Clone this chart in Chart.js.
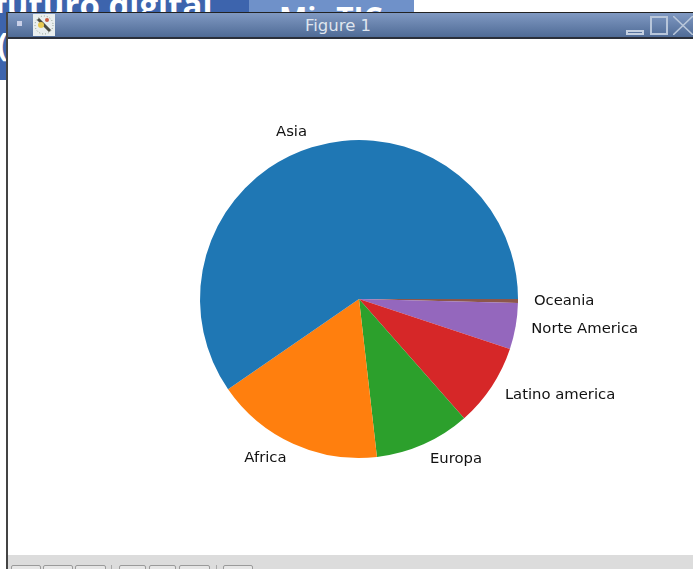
<!DOCTYPE html>
<html>
<head>
<meta charset="utf-8">
<title>Figure 1</title>
<script src="https://cdn.jsdelivr.net/npm/chart.js@4"></script>
<style>
  html, body { margin: 0; padding: 0; background: #fff; overflow: hidden; }
  #page { position: relative; width: 693px; height: 569px; overflow: hidden; font-family: "DejaVu Sans", sans-serif; }
  .abs { position: absolute; }
  #bgBlue { left: 0; top: 0; width: 249px; height: 13px; background: #3d64ad; overflow: hidden; }
  #bgText { left: -6px; top: -18px; font: bold 33px "Open Sans", sans-serif; color: #fff; white-space: nowrap; }
  #bgBlue2 { left: 249px; top: 0; width: 165px; height: 13px; background: #6f91c9; overflow: hidden; }
  #bgTic { left: 30px; top: -3px; font: bold 30px "Open Sans", sans-serif; color: #fff; white-space: nowrap; }
  #bgLeft { left: 0; top: 13px; width: 6px; height: 67px; background: #3d64ad; overflow: hidden; }
  #bgParen { left: -3px; top: 8px; font: bold 33px "Open Sans", sans-serif; color: #fff; }
  #win { left: 6px; top: 12px; width: 700px; height: 570px; background: #fff; border-left: 2px solid #444; box-sizing: border-box; }
  #bar { left: 0; top: 0; width: 100%; height: 27px; border-top: 1px solid #222; border-bottom: 2px solid #2a2f3a; box-sizing: border-box; background: linear-gradient(#8099c2, #4f6b96); }
  #barTitle { left: 0; top: 3px; width: 660px; text-align: center; color: #dfe5ee; font-size: 16.5px; }
  #dot { left: 9px; top: 8px; width: 5px; height: 5px; background: #c9d0e8; }
  #tools { left: 0; top: 543px; width: 100%; height: 30px; background: #dcdcdc; }
  .btn { top: 10px; height: 20px; background: #e6e6e6; border: 1px solid #9a9a9a; border-radius: 2px; box-sizing: border-box; }
  .sep { top: 10px; width: 1px; height: 20px; background: #a8a8a8; }
  #minBtn { left: 618px; top: 17px; width: 18px; height: 5px; border: 2px solid #c3cfe0; box-sizing: border-box; }
  #maxBtn { left: 642px; top: 3px; width: 18px; height: 19px; border: 2px solid #b8c6da; box-sizing: border-box; }
  #pie { position: absolute; left: 0; top: 0; }
</style>
</head>
<body>
<div id="page">
  <div class="abs" id="bgBlue"><div class="abs" id="bgText">futuro digital</div></div>
  <div class="abs" id="bgBlue2"><div class="abs" id="bgTic">MinTIC</div></div>
  <div class="abs" id="bgLeft"><div class="abs" id="bgParen">(</div></div>
  <div class="abs" id="win">
    <div class="abs" id="bar">
      <div class="abs" id="dot"></div>
      <svg class="abs" style="left:25px;top:1px" width="22" height="22">
        <rect width="22" height="22" fill="#e9eeee"/>
        <circle cx="11" cy="11" r="9" fill="none" stroke="#8a9a8a" stroke-dasharray="1 2"/>
        <path d="M5 5 L17 17" stroke="#4a4a40" stroke-width="3"/>
        <circle cx="8" cy="11" r="3" fill="#e8c850"/>
        <circle cx="14" cy="6" r="2" fill="#c85a40"/>
      </svg>
      <div class="abs" id="barTitle">Figure 1</div>
      <div class="abs" id="minBtn"></div>
      <div class="abs" id="maxBtn"></div>
      <svg class="abs" style="left:665px;top:3px" width="20" height="19">
        <path d="M0 0 L20 19 M20 0 L0 19" stroke="#b8c6da" stroke-width="1.6"/>
      </svg>
    </div>
    <div class="abs" id="tools">
      <div class="abs btn" style="left:3px;width:30px"></div>
      <div class="abs btn" style="left:35px;width:30px"></div>
      <div class="abs btn" style="left:67px;width:31px"></div>
      <div class="abs sep" style="left:103px"></div>
      <div class="abs btn" style="left:111px;width:27px"></div>
      <div class="abs btn" style="left:141px;width:27px"></div>
      <div class="abs btn" style="left:171px;width:31px"></div>
      <div class="abs sep" style="left:208px"></div>
      <div class="abs btn" style="left:215px;width:30px"></div>
    </div>
  </div>
  <canvas id="pie" width="693" height="569"></canvas>
</div>
<script>
// shares, in drawing order (clockwise from east)
const regions = ['Oceania', 'Norte America', 'Latino america', 'Europa', 'Africa', 'Asia'];
const shares = [0.4, 4.7, 8.4, 9.7, 17.2, 59.6];
const colors = ['#8c564b', '#9467bd', '#d62728', '#2ca02c', '#ff7f0e', '#1f77b4'];

// labels outside the slices, at 1.1 radius
const outsideLabels = {
  id: 'outsideLabels',
  afterDatasetsDraw(chart) {
    const ctx = chart.ctx;
    ctx.save();
    ctx.font = '14.8px "DejaVu Sans"';
    ctx.fillStyle = '#111';
    ctx.textBaseline = 'middle';
    chart.getDatasetMeta(0).data.forEach((arc, i) => {
      const p = arc.getProps(['x', 'y', 'startAngle', 'endAngle', 'outerRadius']);
      const mid = (p.startAngle + p.endAngle) / 2;
      const x = p.x + Math.cos(mid) * p.outerRadius * 1.1;
      const y = p.y + Math.sin(mid) * p.outerRadius * 1.1;
      ctx.textAlign = x >= p.x ? 'left' : 'right';
      ctx.fillText(regions[i], x, y);
    });
    ctx.restore();
  }
};

new Chart(document.getElementById('pie').getContext('2d'), {
  type: 'pie',
  data: {
    labels: regions,
    datasets: [{
      data: shares,
      backgroundColor: colors,
      borderWidth: 0
    }]
  },
  options: {
    responsive: false,
    animation: false,
    rotation: 90,
    radius: 159,
    layout: { padding: { left: 25, right: 0, top: 29, bottom: 0 } },
    plugins: { legend: { display: false }, tooltip: { enabled: false } }
  },
  plugins: [outsideLabels]
});
</script>
</body>
</html>
